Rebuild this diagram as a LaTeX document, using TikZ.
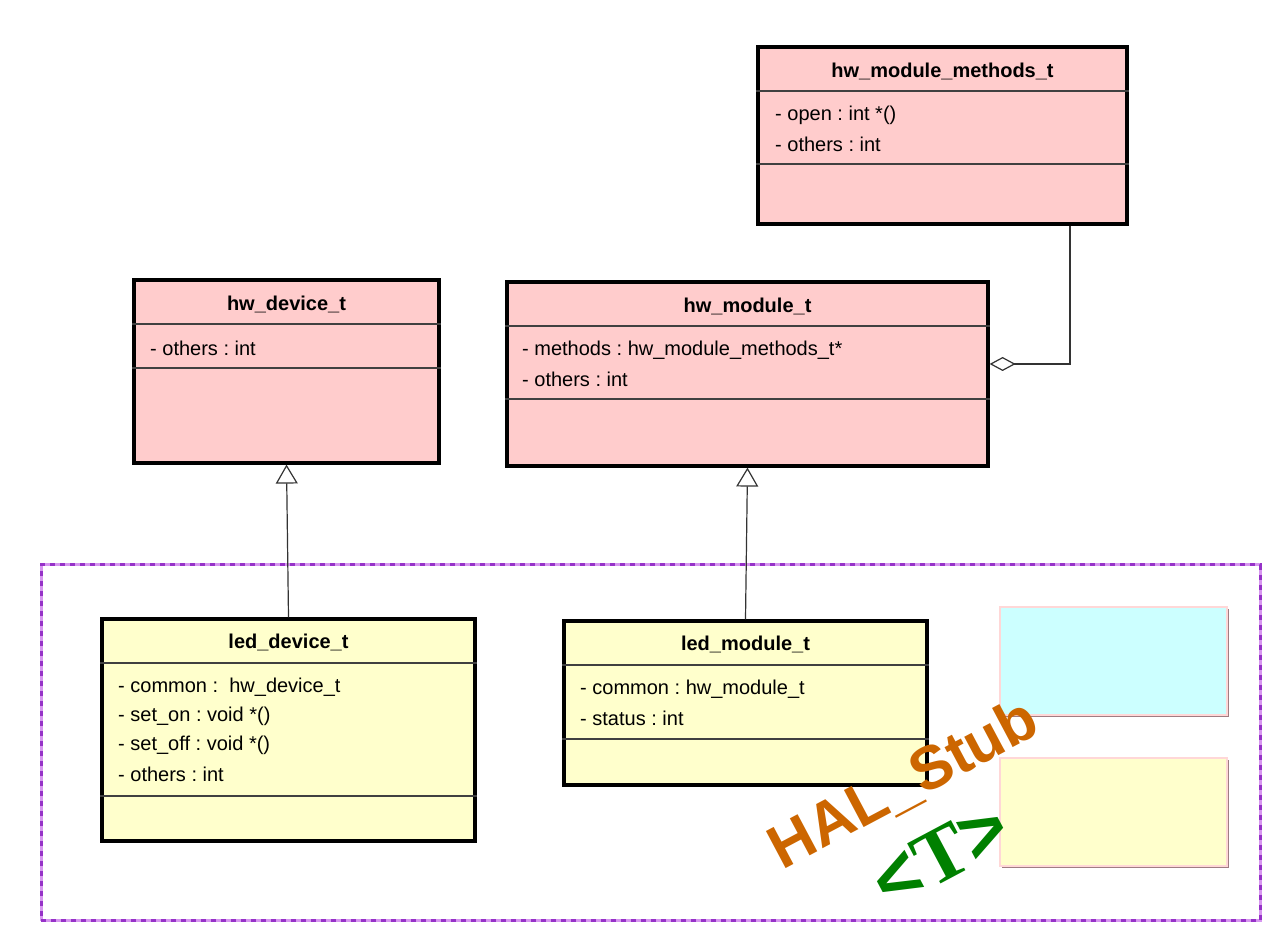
\documentclass[tikz,border=0pt]{standalone}
\usepackage{fontspec}
\setmainfont{Liberation Sans}
\newfontfamily\serifT{Liberation Serif}
\usepackage{xcolor}
\definecolor{clspink}{RGB}{255,204,204}
\definecolor{clsyellow}{RGB}{255,255,204}
\definecolor{clscyan}{RGB}{204,255,255}
\definecolor{halorange}{RGB}{204,102,0}
\definecolor{tgreen}{RGB}{0,128,0}
\definecolor{framedark}{RGB}{150,50,200}
\definecolor{framelight}{RGB}{215,150,240}
\definecolor{legendedge}{RGB}{255,215,215}
\definecolor{legendshadow}{RGB}{160,125,130}
\usepackage{tikz}
\usetikzlibrary{arrows.meta,positioning,shadows}
\frenchspacing

\begin{document}
\begin{tikzpicture}[x=1pt, y=1pt,
      cls/.style={draw=black, line width=3.2pt, inner sep=0pt},
      ttl/.style={font=\fontsize{20}{24}\selectfont\bfseries, inner sep=0pt},
      attr/.style={anchor=west, font=\fontsize{20}{24}\selectfont, inner sep=0pt},
      sep/.style={line width=1.5pt, color=black!75},
      gen/.style={-{Triangle[open, length=19pt, width=22pt, line width=1.2pt]}, line width=1.2pt, color=black!80},
      agg/.style={{Diamond[open, length=26pt, width=14pt, line width=1.2pt]}-, line width=1.2pt, color=black!80},
      legend/.style={draw=legendedge, line width=2pt, inner sep=0pt, minimum width=227pt, minimum height=108pt,
                     drop shadow={shadow xshift=2pt, shadow yshift=-2pt, fill=legendshadow, opacity=1}},
      stamp/.style={rotate=28, inner sep=0pt}]
    \useasboundingbox (0,0) rectangle (1280,952);
    % stub frame
    \draw[framelight, line width=3pt, dash pattern=on 5pt off 5pt] (41,31) rectangle (1260,387);
    \draw[framedark, line width=3pt, dash pattern=on 5pt off 5pt, dash phase=5pt] (41,31) rectangle (1260,387);

    % hw_module_methods_t
    \node[cls, fill=clspink, minimum width=369pt, minimum height=177pt] (hwmm) at (942.5,816.5) {};
    \node[ttl] (hwmmt) at (942.5,881) {hw\_module\_methods\_t};
    \draw[sep] (hwmm.west |- 0,861) -- (hwmm.east |- 0,861);
    \draw[sep] (hwmm.west |- 0,788) -- (hwmm.east |- 0,788);
    \node[attr] (hwmma) at (775,837) {- open : int *()};
    \node[attr] (hwmmb) at (775,808) {- others : int};

    % hw_device_t
    \node[cls, fill=clspink, minimum width=305pt, minimum height=183pt] (hwdev) at (286.5,580.5) {};
    \node[ttl] (hwdevt) at (286.5,648) {hw\_device\_t};
    \draw[sep] (hwdev.west |- 0,628) -- (hwdev.east |- 0,628);
    \draw[sep] (hwdev.west |- 0,584) -- (hwdev.east |- 0,584);
    \node[attr] (hwdeva) at (150,604) {- others : int};

    % hw_module_t
    \node[cls, fill=clspink, minimum width=481pt, minimum height=184pt] (hwmod) at (747.5,578) {};
    \node[ttl] (hwmodt) at (747.5,646) {hw\_module\_t};
    \draw[sep] (hwmod.west |- 0,626) -- (hwmod.east |- 0,626);
    \draw[sep] (hwmod.west |- 0,553) -- (hwmod.east |- 0,553);
    \node[attr] (hwmoda) at (522,602) {- methods : hw\_module\_methods\_t*};
    \node[attr] (hwmodb) at (522,573) {- others : int};

    % led_device_t
    \node[cls, fill=clsyellow, minimum width=373pt, minimum height=222pt] (leddev) at (288.5,222) {};
    \node[ttl] (leddevt) at (288.5,310) {led\_device\_t};
    \draw[sep] (leddev.west |- 0,289) -- (leddev.east |- 0,289);
    \draw[sep] (leddev.west |- 0,156) -- (leddev.east |- 0,156);
    \node[attr] (leddeva) at (118,265) {- common : \ hw\_device\_t};
    \node[attr] (leddevb) at (118,236) {- set\_on : void *()};
    \node[attr] (leddevc) at (118,207) {- set\_off : void *()};
    \node[attr] (leddevd) at (118,178) {- others : int};

    % led_module_t
    \node[cls, fill=clsyellow, minimum width=363pt, minimum height=164pt] (ledmod) at (745.5,249) {};
    \node[ttl] (ledmodt) at (745.5,308) {led\_module\_t};
    \draw[sep] (ledmod.west |- 0,287) -- (ledmod.east |- 0,287);
    \draw[sep] (ledmod.west |- 0,213) -- (ledmod.east |- 0,213);
    \node[attr] (ledmoda) at (580,263) {- common : hw\_module\_t};
    \node[attr] (ledmodb) at (580,234) {- status : int};

    % legend boxes
    \node[legend, fill=clscyan] (legcyan) at (1113.5,290.5) {};
    \node[legend, fill=clsyellow] (legyellow) at (1113.5,140) {};

    % relations
    \draw[gen] (leddev.north) -- (hwdev.south);
    \draw[gen] (ledmod.north) -- (hwmod.south);
    \coordinate (aggbend) at (1070,588);
    \draw[agg] (hwmod.east |- aggbend) -- (aggbend) -- (hwmm.south -| aggbend);

    % stamps
    \node[stamp, text=halorange, font=\fontsize{61}{61}\selectfont\bfseries] (halstub) at (904,167) {HAL\_Stub};
    \node[stamp, text=tgreen, font=\fontsize{78}{78}\selectfont\bfseries] (tmark) at (941,97) {<{\serifT T}>};
  \end{tikzpicture}
\end{document}
